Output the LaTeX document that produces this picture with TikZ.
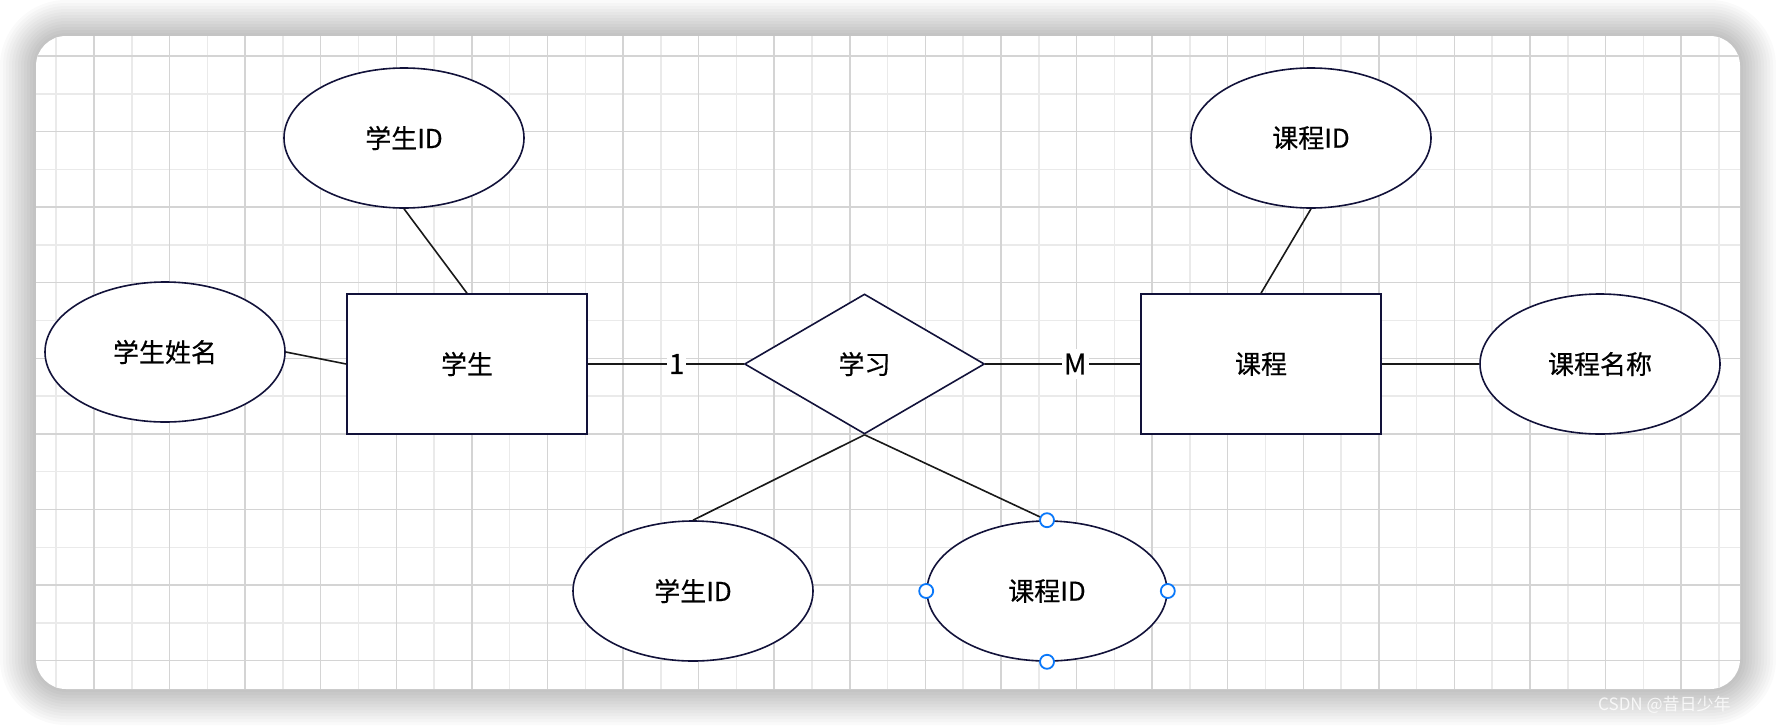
\documentclass[tikz,border=0pt]{standalone}
\usepackage{fontspec}
\setmainfont{Noto Sans CJK SC}[FakeBold=0.4]
\newfontface\wmface{Noto Sans CJK SC}
\usetikzlibrary{shapes.geometric}
\definecolor{shapeline}{RGB}{18,18,58}
\definecolor{gridmajor}{RGB}{212,212,212}
\definecolor{gridminor}{RGB}{234,234,234}
\definecolor{handle}{RGB}{10,120,250}
\definecolor{connline}{RGB}{25,25,25}
\begin{document}
\begin{tikzpicture}[x=1pt,y=-1pt,
  base/.style={draw=shapeline, line width=1.6pt, fill=white, inner sep=0pt,
    minimum width=240pt, minimum height=140pt, font=\fontsize{26}{30}\selectfont},
  attr/.style={base, ellipse},
  entity/.style={base, rectangle},
  relation/.style={base, diamond, aspect=1.714},
  conn/.style={draw=connline, line width=1.6pt},
  lbl/.style={fill=white, inner xsep=2pt, inner ysep=5pt, font=\fontsize{28}{32}\selectfont},
  hdl/.style={circle, draw=handle, fill=white, line width=1.8pt, minimum size=14pt, inner sep=0pt}
]
\useasboundingbox (0,0) rectangle (1776,726);
\fill[white] (0,0) rectangle (1776,726);
% shadow
\foreach \i in {1,...,12}{
  \pgfmathsetmacro\d{3*\i}
  \pgfmathsetmacro\r{30+3*\i}
  \fill[black, fill opacity=0.02, rounded corners=\r pt] (36-\d,36-\d) rectangle (1740+\d,689+\d);
}
% card
\fill[white, rounded corners=30pt] (36,36) rectangle (1740,689);
\begin{scope}
  \clip[rounded corners=30pt] (36,36) rectangle (1740,689);
  \foreach \k in {0,...,44}{
    \draw[gridminor, line width=1.5pt] ({56.2+\k*37.79},36) -- ++(0,653);
  }
  \foreach \k in {0,...,17}{
    \draw[gridminor, line width=1.5pt] (36,{56+\k*37.79}) -- ++(1704,0);
  }
  \foreach \k in {1,3,...,43}{
    \draw[gridmajor, line width=1.5pt] ({56.2+\k*37.79},36) -- ++(0,653);
  }
  \foreach \k in {0,2,...,16}{
    \draw[gridmajor, line width=1.5pt] (36,{56+\k*37.79}) -- ++(1704,0);
  }
\end{scope}
% nodes
\node[attr] (sid1) at (404,138) {学生ID};
\node[attr] (sname) at (165,352) {学生姓名};
\node[entity] (stu) at (467,364) {学生};
\node[relation] (rel) at (864.5,364) {学习};
\node[entity] (crs) at (1261,364) {课程};
\node[attr] (cname) at (1600,364) {课程名称};
\node[attr] (cid1) at (1311,138) {课程ID};
\node[attr] (sid2) at (693,591) {学生ID};
\node[attr] (cid2) at (1047,591) {课程ID};
% connectors
\draw[conn] (sid1.south) -- (stu.north);
\draw[conn] (sname.east) -- (stu.west);
\draw[conn] (stu.east) -- node[lbl, pos=0.57] {1} (rel.west);
\draw[conn] (rel.east) -- node[lbl, pos=0.58] {M} (crs.west);
\draw[conn] (crs.east) -- (cname.west);
\draw[conn] (cid1.south) -- (crs.north);
\draw[conn] (rel.south) -- (sid2.north);
\draw[conn] (rel.south) -- (cid2.north);
% selection handles
\node[hdl] (h1) at (cid2.north) {};
\node[hdl] (h2) at (cid2.south) {};
\node[hdl] (h3) at (cid2.east) {};
\node[hdl] (h4) at (cid2.west) {};
% watermark
\node[text=white, text opacity=0.8, anchor=west, inner sep=0pt, font=\wmface\fontsize{17}{20}\selectfont] (wm) at (1598,705) {CSDN @昔日少年};
\end{tikzpicture}
\end{document}
